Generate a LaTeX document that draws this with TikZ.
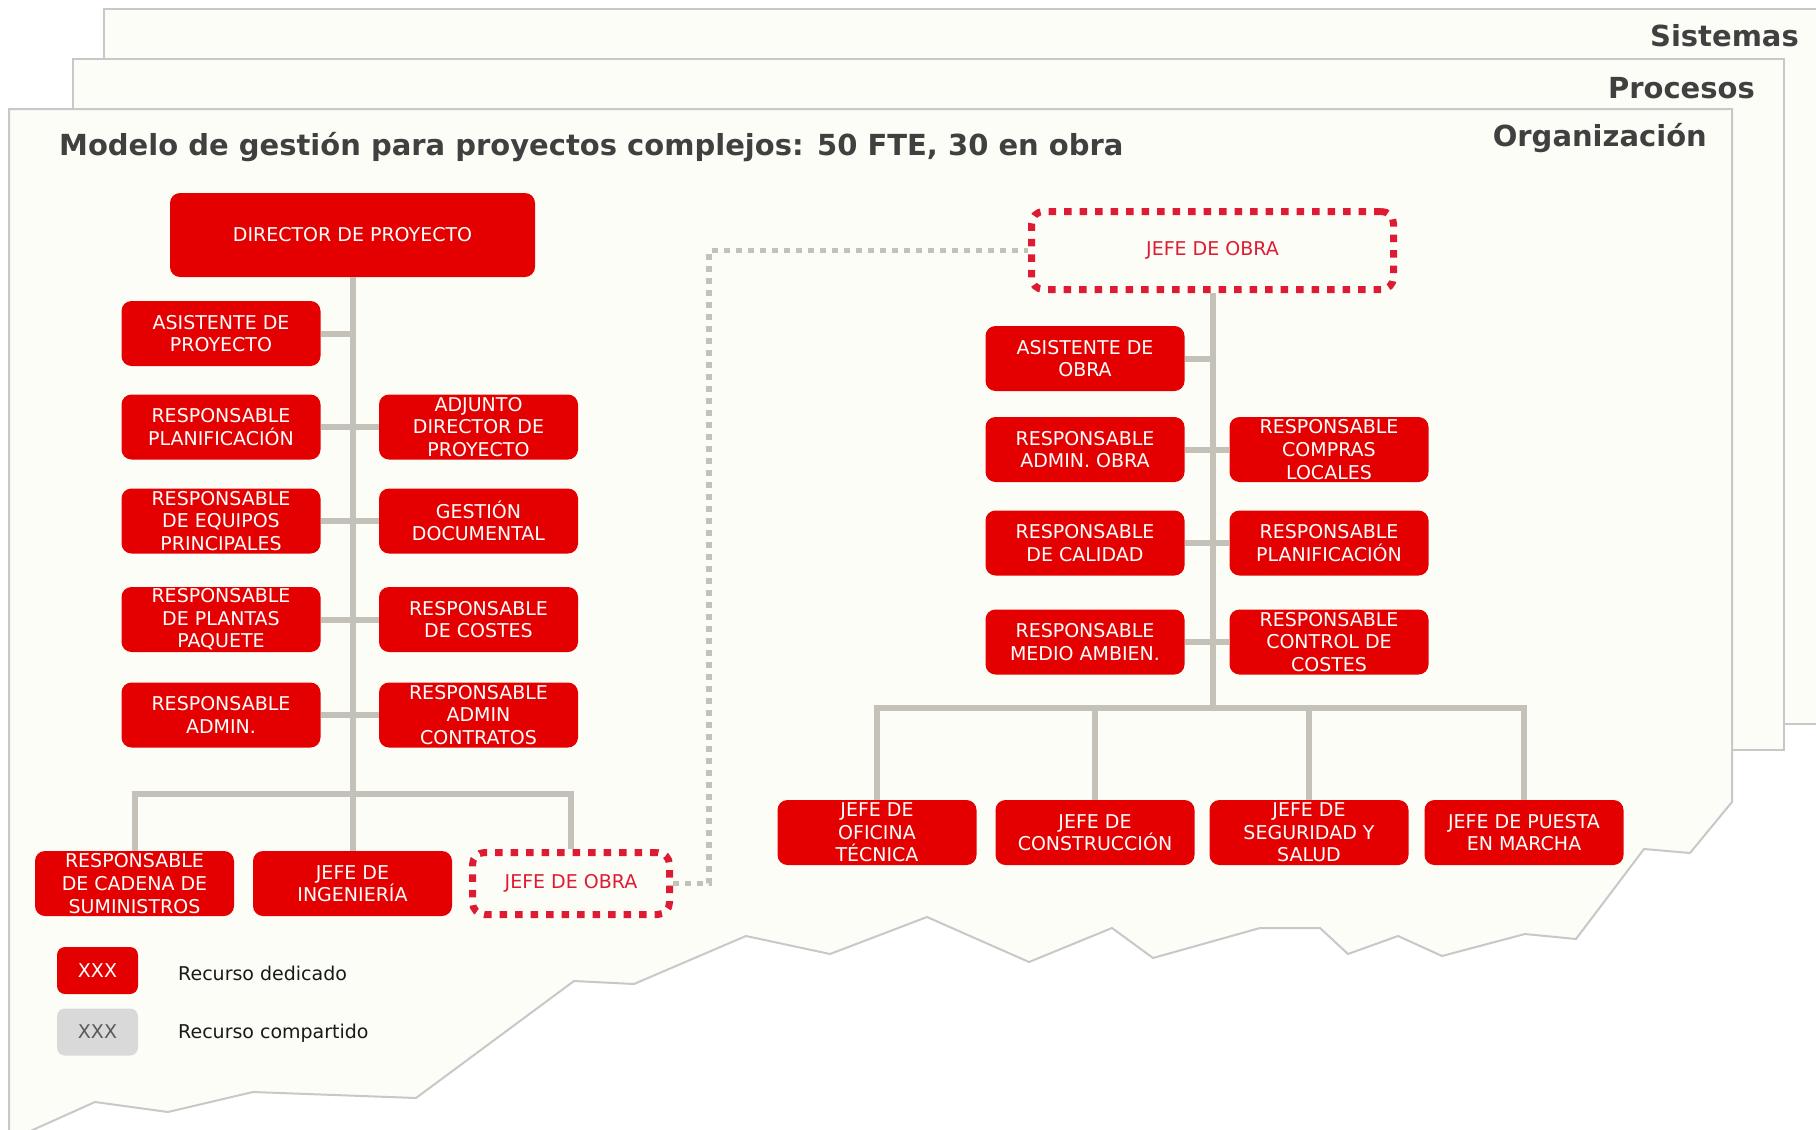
\documentclass[tikz,border=0pt]{standalone}
\usepackage{fontspec}
\setmainfont{DejaVu Sans}
\usepackage{tikz}
\usetikzlibrary{calc}

\definecolor{boxred}{RGB}{228,0,0}
\definecolor{obrared}{RGB}{221,28,52}
\definecolor{linegray}{RGB}{196,194,184}
\definecolor{pagefill}{RGB}{253,253,247}
\definecolor{pageline}{RGB}{200,200,200}
\definecolor{titlegray}{RGB}{64,64,64}
\definecolor{sharedgray}{RGB}{217,217,217}

\begin{document}
\begin{tikzpicture}[x=1pt, y=-1pt,
	box/.style={fill=boxred, text=white, rounded corners=10pt, minimum width=199pt, minimum height=65pt, inner sep=0pt, align=center, font=\fontsize{19}{22.6}\selectfont},
	obrabox/.style={draw=obrared, line width=7pt, dash pattern=on 7.5pt off 8pt, rounded corners=12pt, text=obrared, inner sep=0pt, align=center, font=\fontsize{19}{22.6}\selectfont},
	conn/.style={draw=linegray, line width=6pt},
	link/.style={draw=linegray, line width=5.5pt, dash pattern=on 5.5pt off 6.5pt},
	page/.style={fill=pagefill, draw=pageline, line width=2pt},
	layer/.style={anchor=base east, inner sep=0pt, text=titlegray, font=\fontsize{29}{34}\selectfont\bfseries},
	legtext/.style={anchor=base west, inner sep=0pt, text=black!90, font=\fontsize{19}{22.6}\selectfont}
	]
	\useasboundingbox (0,0) rectangle (1816,1130);
	% pages
	\path[page] (104,9) rectangle (1840,724);
	\path[page] (73,59) rectangle (1784,750);
	\path[page] (9,109) -- (1732,109) -- (1732,802) -- (1690,853) -- (1644,849) -- (1576,939)
	-- (1525,934) -- (1442,956) -- (1398,936) -- (1348,954) -- (1320,928) -- (1260,928)
	-- (1153,958) -- (1112,928) -- (1029,962) -- (927,917) -- (830,954) -- (746,936)
	-- (634,984) -- (574,981) -- (416,1098) -- (253,1092) -- (168,1112) -- (95,1102)
	-- (26,1133) -- (9,1133) -- cycle;
	\node[layer] (sis) at (1799,46) {Sistemas};
	\node[layer] (proc) at (1755,98) {Procesos};
	\node[layer] (org) at (1707,146) {Organización};
	\node[layer, anchor=base west] (title) at (59,155) {Modelo de gestión para proyectos complejos: 50 FTE, 30 en obra};
	
	% proyecto
	\node[box, minimum width=365pt, minimum height=84pt] (dir) at (352.5,235) {DIRECTOR DE PROYECTO};
	\coordinate (busL) at (352.5,794);
	\node[box] (asis) at (221,333.5) {ASISTENTE DE\\PROYECTO};
	\node[box] (planif) at (221,427) {RESPONSABLE\\PLANIFICACIÓN};
	\node[box] (adjunto) at (478.5,427) {ADJUNTO\\DIRECTOR DE\\PROYECTO};
	\node[box] (equipos) at (221,521) {RESPONSABLE\\DE EQUIPOS\\PRINCIPALES};
	\node[box] (gestion) at (478.5,521) {GESTIÓN\\DOCUMENTAL};
	\node[box] (plantas) at (221,619.5) {RESPONSABLE\\DE PLANTAS\\PAQUETE};
	\node[box] (costes) at (478.5,619.5) {RESPONSABLE\\DE COSTES};
	\node[box] (admin) at (221,715) {RESPONSABLE\\ADMIN.};
	\node[box] (contratos) at (478.5,715) {RESPONSABLE\\ADMIN\\CONTRATOS};
	\node[box] (cadena) at (134.5,883.5) {RESPONSABLE\\DE CADENA DE\\SUMINISTROS};
	\node[box] (ingen) at (352.5,883.5) {JEFE DE\\INGENIERÍA};
	\node[obrabox, minimum width=197pt, minimum height=62pt] (obraL) at (571,883.5) {JEFE DE OBRA};
	\path[conn]
	(dir) -- (busL)
	(asis) -- (asis -| dir)
	(planif) -- (adjunto)
	(equipos) -- (gestion)
	(plantas) -- (costes)
	(admin) -- (contratos)
	(cadena) |- (busL) -| (obraL)
	(ingen) -- (busL)
	;
	
	% obra
	\node[obrabox, minimum width=362pt, minimum height=78pt] (obraR) at (1212.5,250.5) {JEFE DE OBRA};
	\coordinate (busR) at (1212.5,708);
	\coordinate (bend) at (709,0);
	\draw[link] (obraL.east) -| (bend |- obraR) -- (obraR.west);
	\node[box] (asisO) at (1085,358.5) {ASISTENTE DE\\OBRA};
	\node[box] (adminO) at (1085,449.5) {RESPONSABLE\\ADMIN. OBRA};
	\node[box] (compras) at (1329,449.5) {RESPONSABLE\\COMPRAS\\LOCALES};
	\node[box] (calidad) at (1085,543) {RESPONSABLE\\DE CALIDAD};
	\node[box] (planifO) at (1329,543) {RESPONSABLE\\PLANIFICACIÓN};
	\node[box] (medio) at (1085,642) {RESPONSABLE\\MEDIO AMBIEN.};
	\node[box] (control) at (1329,642) {RESPONSABLE\\CONTROL DE\\COSTES};
	\node[box] (oficina) at (877,832.5) {JEFE DE\\OFICINA\\TÉCNICA};
	\node[box] (constr) at (1095,832.5) {JEFE DE\\CONSTRUCCIÓN};
	\node[box] (segur) at (1309,832.5) {JEFE DE\\SEGURIDAD Y\\SALUD};
	\node[box] (puesta) at (1524,832.5) {JEFE DE PUESTA\\EN MARCHA};
	\path[conn]
	(obraR) -- (busR)
	(asisO) -- (asisO -| obraR)
	(adminO) -- (compras)
	(calidad) -- (planifO)
	(medio) -- (control)
	(oficina) |- (busR) -| (puesta)
	(constr) -- (constr |- busR)
	(segur) -- (segur |- busR)
	;
	
	% leyenda
	\node[box, minimum width=81pt, minimum height=47pt, rounded corners=8pt] (ded) at (97.5,970.5) {XXX};
	\node[box, minimum width=81pt, minimum height=47pt, rounded corners=8pt, fill=sharedgray, text=black!65] (comp) at (97.5,1032) {XXX};
	\node[legtext] (dedtxt) at (178,980) {Recurso dedicado};
	\node[legtext] (comptxt) at (178,1038) {Recurso compartido};
\end{tikzpicture}
\end{document}
